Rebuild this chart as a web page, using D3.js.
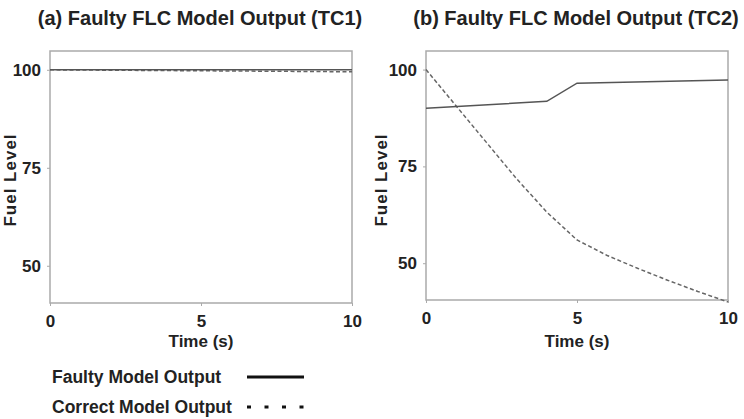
<!DOCTYPE html>
<html>
<head>
<meta charset="utf-8">
<script src="https://cdn.jsdelivr.net/npm/d3@7"></script>
<style>
  body { margin: 0; background: #fff; }
  text { font-family: "Liberation Sans", Arial, Helvetica, sans-serif; font-weight: bold; fill: #222; }
</style>
</head>
<body>
<div id="root"></div>
<script>
const width = 744;
const height = 419;

// Data

const xTicks = [0, 5, 10];
const yTicks = [50, 75, 100];

const timeA = [0, 10];
const faultyA = [100, 100];
const correctA = [100, 99.5];

const timeFaultyB = [0, 4, 5, 10];
const faultyB = [90, 91.8, 96.5, 97.3];
const timeCorrectB = [0, 1, 2, 3, 4, 5, 6, 7, 8, 9, 10];
const correctB = [100, 90.6, 81.2, 71.8, 63.2, 56, 52, 48.7, 45.6, 42.7, 40];

const panels = [
  {
    title: '(a) Faulty FLC Model Output (TC1)',
    box: { left: 50, right: 352, top: 51, bottom: 303 },
    titleX: 200,
    yLabelX: 16,
    faulty: timeA.map((t, i) => [t, faultyA[i]]),
    correct: timeA.map((t, i) => [t, correctA[i]]),
  },
  {
    title: '(b) Faulty FLC Model Output (TC2)',
    box: { left: 426, right: 728, top: 51, bottom: 300 },
    titleX: 576,
    yLabelX: 387,
    faulty: timeFaultyB.map((t, i) => [t, faultyB[i]]),
    correct: timeCorrectB.map((t, i) => [t, correctB[i]]),
  },
];

// Main canvas

const svg = d3
  .select('#root')
  .append('svg')
  .attr('width', width)
  .attr('height', height);

panels.forEach((p) => {
  const b = p.box;
  const x = d3.scaleLinear().domain([0, 10]).range([b.left, b.right]);
  const y = d3.scaleLinear().domain([40.5, 104.8]).range([b.bottom, b.top]);

  const g = svg.append('g');

  // Frame
  g.append('rect')
    .attr('x', b.left)
    .attr('y', b.top)
    .attr('width', b.right - b.left)
    .attr('height', b.bottom - b.top)
    .attr('fill', 'none')
    .attr('stroke', '#aaa')
    .attr('stroke-width', 1.5);

  // Axes
  const xAxis = g
    .append('g')
    .attr('transform', `translate(0,${b.bottom})`)
    .call(d3.axisBottom(x).tickValues(xTicks).tickSize(3).tickPadding(9));
  const yAxis = g
    .append('g')
    .attr('transform', `translate(${b.left},0)`)
    .call(d3.axisLeft(y).tickValues(yTicks).tickSize(3).tickPadding(6));

  [xAxis, yAxis].forEach((ax) => {
    ax.select('.domain').remove();
    ax.selectAll('line').attr('stroke', '#aaa');
    ax.selectAll('text')
      .attr('font-size', 17)
      .attr('font-family', '"Liberation Sans", Arial, sans-serif')
      .attr('font-weight', 'bold')
      .attr('fill', '#222');
  });

  // Lines
  const line = d3
    .line()
    .x((d) => x(d[0]))
    .y((d) => y(d[1]));

  g.append('path')
    .datum(p.correct)
    .attr('d', line)
    .attr('fill', 'none')
    .attr('stroke', '#666')
    .attr('stroke-width', 1.5)
    .attr('stroke-dasharray', '4,2.5');

  g.append('path')
    .datum(p.faulty)
    .attr('d', line)
    .attr('fill', 'none')
    .attr('stroke', '#555')
    .attr('stroke-width', 1.5);

  // Titles
  g.append('text')
    .attr('x', p.titleX)
    .attr('y', 25)
    .attr('text-anchor', 'middle')
    .attr('font-size', 20)
    .text(p.title);

  g.append('text')
    .attr('x', (b.left + b.right) / 2)
    .attr('y', 347)
    .attr('text-anchor', 'middle')
    .attr('font-size', 17)
    .text('Time (s)');

  g.append('text')
    .attr('transform', `translate(${p.yLabelX},${180}) rotate(-90)`)
    .attr('text-anchor', 'middle')
    .attr('font-size', 17)
    .attr('letter-spacing', 1)
    .text('Fuel Level');
});

// Legend

const legendItems = [
  { label: 'Faulty Model Output', y: 383, dash: null, sw: 3 },
  { label: 'Correct Model Output', y: 413, dash: '4,13.5', sw: 3 },
];

const legend = svg.append('g');

legend
  .selectAll('text')
  .data(legendItems)
  .join('text')
  .attr('x', 52)
  .attr('y', (d) => d.y)
  .attr('font-size', 17.5)
  .text((d) => d.label);

legend
  .selectAll('line')
  .data(legendItems)
  .join('line')
  .attr('x1', 247)
  .attr('x2', 304)
  .attr('y1', (d) => d.y - 6)
  .attr('y2', (d) => d.y - 6)
  .attr('stroke', '#111')
  .attr('stroke-width', (d) => d.sw)
  .attr('stroke-dasharray', (d) => d.dash);
</script>
</body>
</html>
